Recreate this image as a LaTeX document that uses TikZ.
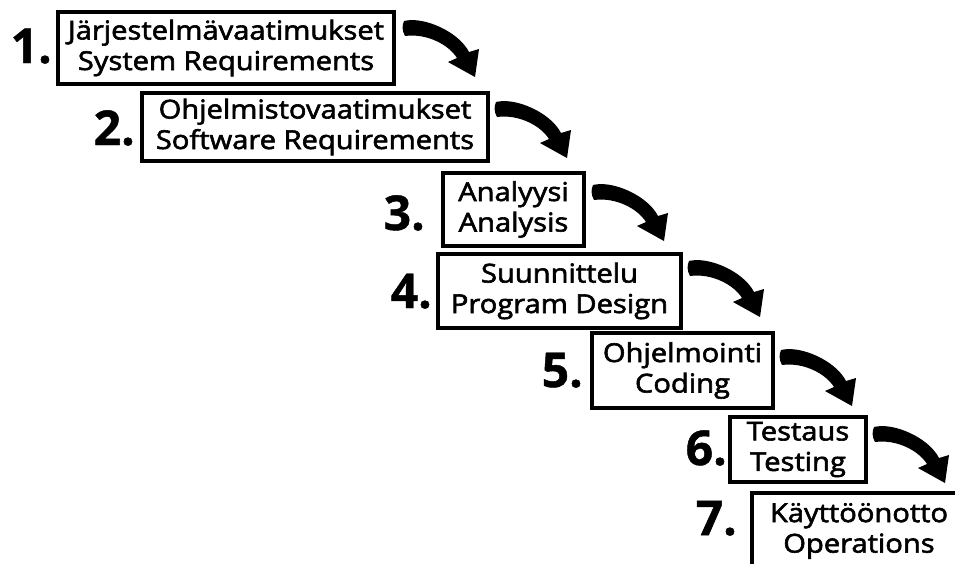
\documentclass[tikz,border=0pt]{standalone}
\usepackage{fontspec}
\newfontfamily\labelfont{Open Sans}[FakeBold=2.3, FakeStretch=1.12]
\newfontfamily\numfont{Open Sans}[FakeBold=1]
\begin{document}
\begin{tikzpicture}[x=1pt,y=-1pt,
  phase/.style={draw=black, line width=3.2pt, inner sep=0pt, align=center,
    font=\labelfont\fontsize{26}{30.5}\selectfont},
  stepnum/.style={anchor=base east, inner sep=0pt,
    font=\numfont\bfseries\fontsize{48}{48}\selectfont},
  bend arrow/.pic={
    \fill[black] (1,-7) .. controls (21,-12) and (56,4) .. (66,24)
      -- (76,21) -- (72,49) -- (45,34) -- (54,30)
      .. controls (46,17) and (24,5) .. (2,8)
      .. controls (-1,3) and (-1,-3) .. cycle;
  }]
\useasboundingbox (0,0) rectangle (955,563);
\clip (0,0) rectangle (955,563);
\fill[white] (0,0) rectangle (955,563);

% phase boxes
\node[phase, minimum width=336pt, minimum height=72pt] (b1) at (226,48)
  {Järjestelmävaatimukset\\System Requirements};
\node[phase, minimum width=346pt, minimum height=68pt] (b2) at (315,127)
  {Ohjelmistovaatimukset\\Software Requirements};
\node[phase, minimum width=141pt, minimum height=73pt] (b3) at (513.5,209.5)
  {Analyysi\\Analysis};
\node[phase, minimum width=243pt, minimum height=74pt] (b4) at (559.5,291)
  {Suunnittelu\\Program Design};
\node[phase, minimum width=181pt, minimum height=75pt] (b5) at (682.5,370.5)
  {Ohjelmointi\\Coding};
\node[phase, minimum width=136pt, minimum height=65pt] (b6) at (798,449.5)
  {Testaus\\Testing};
\node[phase, minimum width=214pt, minimum height=76pt] (b7) at (859,531)
  {Käyttöönotto\\Operations};

% step numbers
\node[stepnum] (n1) at (52,63) {1.};
\node[stepnum] (n2) at (135,145) {2.};
\node[stepnum] (n3) at (425,230) {3.};
\node[stepnum] (n4) at (432,308) {4.};
\node[stepnum] (n5) at (583,387) {5.};
\node[stepnum] (n6) at (727,465) {6.};
\node[stepnum] (n7) at (737,535) {7.};

% curved arrows leading down to the next phase
\pic at (403,28) {bend arrow};
\pic at (495,109) {bend arrow};
\pic at (592,192) {bend arrow};
\pic at (688,268) {bend arrow};
\pic at (780,357) {bend arrow};
\pic at (873,434) {bend arrow};
\end{tikzpicture}
\end{document}
